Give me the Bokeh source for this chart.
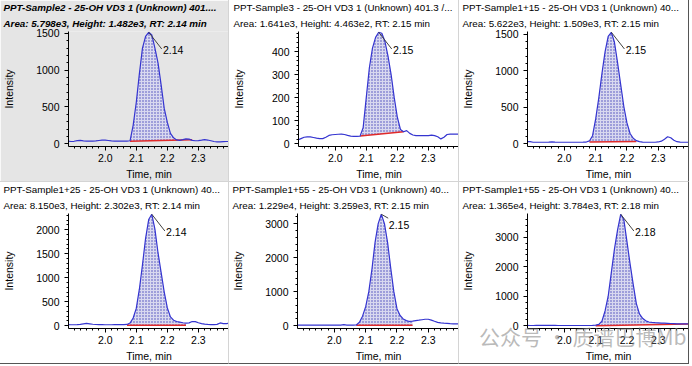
from bokeh.plotting import figure
from bokeh.layouts import column, row
from bokeh.models import Title, Range1d, FixedTicker, NumeralTickFormatter, Div
from bokeh.embed import file_html
from bokeh.resources import INLINE
from bokeh.core.properties import value

# ---------------- data ----------------
times = [1.88, 1.89, 1.90, 1.91, 1.92, 1.93, 1.94, 1.95, 1.96, 1.97,
         1.98, 1.99, 2.00, 2.01, 2.02, 2.03, 2.04, 2.05, 2.06, 2.07,
         2.08, 2.09, 2.10, 2.11, 2.12, 2.13, 2.14, 2.15, 2.16, 2.17,
         2.18, 2.19, 2.20, 2.21, 2.22, 2.23, 2.24, 2.25, 2.26, 2.27,
         2.28, 2.29, 2.30, 2.31, 2.32, 2.33, 2.34, 2.35, 2.36, 2.37,
         2.38, 2.39, 2.40]

title_line1 = [
    "PPT-Sample2 - 25-OH VD3 1 (Unknown) 401....",
    "PPT-Sample3 - 25-OH VD3 1 (Unknown) 401.3 /...",
    "PPT-Sample1+15 - 25-OH VD3 1 (Unknown) 40...",
    "PPT-Sample1+25 - 25-OH VD3 1 (Unknown) 40...",
    "PPT-Sample1+55 - 25-OH VD3 1 (Unknown) 40...",
    "PPT-Sample1+55 - 25-OH VD3 1 (Unknown) 40...",
]
title_line2 = [
    "Area: 5.798e3, Height: 1.482e3, RT: 2.14 min",
    "Area: 1.641e3, Height: 4.463e2, RT: 2.15 min",
    "Area: 5.622e3, Height: 1.509e3, RT: 2.15 min",
    "Area: 8.150e3, Height: 2.302e3, RT: 2.14 min",
    "Area: 1.229e4, Height: 3.259e3, RT: 2.15 min",
    "Area: 1.365e4, Height: 3.784e3, RT: 2.18 min",
]
rt_labels = ["2.14", "2.15", "2.15", "2.14", "2.15", "2.18"]

intensity_1 = [35, 30, 33, 42, 45, 38, 35, 34, 35, 38,
               44, 50, 50, 44, 38, 35, 35, 34, 34, 35,
               40, 250, 560, 950, 1300, 1460, 1515, 1480, 1300, 1100,
               800, 480, 290, 140, 80, 52, 46, 55, 66, 62,
               46, 40, 42, 48, 55, 50, 40, 30, 25, 25,
               28, 30, 30]
intensity_2 = [16, 22, 28, 30, 30, 27, 24, 22, 22, 28,
               36, 39, 40, 41, 42, 40, 36, 33, 32, 32,
               33, 70, 200, 330, 415, 462, 484, 480, 445, 380,
               300, 200, 115, 62, 52, 57, 45, 38, 35, 35,
               35, 35, 35, 37, 35, 30, 21, 28, 40, 42,
               42, 42, 42]
intensity_3 = [30, 28, 20, 20, 20, 20, 20, 22, 26, 22,
               20, 20, 20, 20, 20, 20, 20, 20, 21, 23,
               38, 110, 340, 630, 960, 1260, 1470, 1527, 1390, 1110,
               810, 510, 285, 140, 75, 42, 28, 22, 20, 20,
               20, 20, 24, 35, 62, 95, 82, 48, 28, 22,
               20, 20, 20]
intensity_4 = [22, 20, 20, 22, 28, 38, 48, 40, 30, 25,
               22, 22, 20, 20, 20, 22, 22, 22, 22, 26,
               55, 160, 360, 760, 1270, 1820, 2210, 2320, 2010, 1520,
               1110, 700, 370, 185, 115, 88, 76, 62, 52, 60,
               88, 85, 62, 42, 32, 26, 22, 22, 28, 58,
               42, 45, 50]
intensity_5 = [15, 15, 15, 15, 15, 15, 15, 15, 15, 15,
               15, 15, 15, 15, 20, 30, 20, 15, 15, 22,
               100, 280, 560, 1000, 1660, 2450, 3000, 3275, 3000, 2450,
               1700, 1000, 500, 300, 200, 150, 125, 135, 150, 162,
               176, 190, 190, 165, 130, 100, 82, 75, 70, 62,
               56, 55, 55]
intensity_6 = [10, 8, 8, 10, 12, 14, 15, 14, 12, 10,
               8, 8, 8, 8, 8, 8, 8, 8, 8, 8,
               8, 10, 20, 45, 150, 500, 1000, 1800, 2600, 3250,
               3780, 3600, 2850, 2100, 1400, 750, 400, 250, 170, 125,
               112, 102, 96, 90, 85, 80, 75, 70, 65, 62,
               60, 60, 60]
intensities = [intensity_1, intensity_2, intensity_3, intensity_4, intensity_5, intensity_6]

peak_start = [2.08, 2.08, 2.08, 2.07, 2.07, 2.10]
peak_end = [2.28, 2.22, 2.23, 2.26, 2.25, 2.40]
base_start = [32, 33, 22, 10, 15, 2]
base_end = [55, 52, 30, 10, 15, 55]

y_major = [
    [0, 500, 1000, 1500],
    [0, 100, 200, 300, 400],
    [0, 500, 1000, 1500],
    [0, 500, 1000, 1500, 2000],
    [0, 1000, 2000, 3000],
    [0, 1000, 2000, 3000],
]
x_major = [2.0, 2.1, 2.2, 2.3]
watermark = "公众号 · 质谱巴博Mb"

FONT = "Liberation Sans"
LINE_BLUE = "#3535d0"
FILL = "#d9d9ef"
DOTS = "#4444bb"
RED = "#e02a2a"
SEP = "#d4d4d4"
EDGE = "#555555"


def make_panel(i):
    ys = intensities[i]
    ymax = max(ys)
    col, rw = i % 3, i // 3
    selected = (i == 0)
    bg = "#e5e5e5" if selected else "#ffffff"
    w = 229 if col == 0 else 230
    p = figure(width=w, height=182, output_backend="svg", toolbar_location=None,
               x_range=Range1d(1.882, 2.40),
               y_range=Range1d(-0.025 * ymax, ymax * 1.007),
               min_border_left=68, min_border_right=0, min_border_top=31,
               min_border_bottom=29, title=None,
               background_fill_color=bg, border_fill_color=bg,
               outline_line_color=None)
    p.styles = {"border-right": "1px solid " + (EDGE if col == 2 else SEP),
                "border-bottom": "1px solid " + (EDGE if rw == 1 else SEP)}
    style = "bold italic" if selected else "normal"
    t2 = Title(text=title_line2[i], align="left", text_font=FONT, text_font_size="9.8px",
               text_font_style=style, text_color="#000000", standoff=6, offset=-65)
    t1 = Title(text=title_line1[i], align="left", text_font=FONT, text_font_size="9.8px",
               text_font_style=style, text_color="#000000", standoff=-1, offset=-65)
    p.add_layout(t2, "above")
    p.add_layout(t1, "above")

    p.grid.visible = False

    # integrated area
    seg_t = [t for t in times if peak_start[i] - 1e-9 <= t <= peak_end[i] + 1e-9]
    seg_y = [ys[times.index(t)] for t in seg_t]
    span = peak_end[i] - peak_start[i]
    seg_b = [base_start[i] + (base_end[i] - base_start[i]) * (t - peak_start[i]) / span for t in seg_t]
    p.varea(x=seg_t, y1=seg_b, y2=seg_y, fill_color=FILL, hatch_pattern=".",
            hatch_color=DOTS, hatch_scale=3, hatch_weight=1)
    p.line([peak_start[i], peak_end[i]], [base_start[i], base_end[i]], color=RED, line_width=1.5)

    p.line(times, ys, color=LINE_BLUE, line_width=1.2)

    # apex annotation
    k = ys.index(ymax)
    ax, ay = times[k], ymax
    if i == 4:
        lx, ly = ax + 0.022, ay - 0.035 * ymax
        tx, ty = lx + 0.002, ly - 0.06 * ymax
    else:
        lx, ly = ax + 0.042, ay - 0.15 * ymax
        tx, ty = lx + 0.004, ly - 0.01 * ymax
    p.segment(x0=[ax], y0=[ay], x1=[lx], y1=[ly], line_color="#404040", line_width=1)
    p.text(x=[tx], y=[ty], text=[rt_labels[i]], text_font=value(FONT), text_font_size="10.5px",
           text_baseline="middle", text_align="left", text_color="#000000")

    # axes
    p.xaxis.ticker = FixedTicker(ticks=x_major,
                                 minor_ticks=[1.90 + 0.02 * j for j in range(26)])
    p.xaxis.formatter = NumeralTickFormatter(format="0.0")
    step = y_major[i][1] - y_major[i][0]
    p.yaxis.ticker = FixedTicker(ticks=y_major[i],
                                 minor_ticks=[step / 5 * j for j in range(int(ymax / (step / 5)) + 1)])
    p.xaxis.axis_label = "Time, min"
    p.yaxis.axis_label = "Intensity"
    for ax_ in (p.xaxis, p.yaxis):
        ax_.axis_line_color = "#000000"
        ax_.major_tick_line_color = "#000000"
        ax_.minor_tick_line_color = "#000000"
        ax_.major_tick_in = 0
        ax_.major_tick_out = 4
        ax_.minor_tick_in = 0
        ax_.minor_tick_out = 2
        ax_.major_label_text_font = FONT
        ax_.major_label_text_font_size = "10.5px"
        ax_.major_label_text_color = "#000000"
        ax_.axis_label_text_font = FONT
        ax_.axis_label_text_font_size = "10.5px"
        ax_.axis_label_text_font_style = "normal"
        ax_.axis_label_text_color = "#000000"
    p.xaxis.major_label_standoff = 3
    p.xaxis.axis_label_standoff = 3
    p.yaxis.major_label_standoff = 5
    p.yaxis.axis_label_standoff = 24 if i == 1 else 18
    return p


panels = [make_panel(i) for i in range(6)]
mark = Div(text=watermark, width=215, height=30,
           styles={"position": "absolute", "left": "474px", "top": "316px",
                   "color": "rgba(140,140,140,0.6)", "font-size": "21px",
                   "font-family": "Noto Sans CJK SC", "white-space": "nowrap",
                   "z-index": "10", "pointer-events": "none"})
layout = column(row(panels[0], panels[1], panels[2]), row(panels[3], panels[4], panels[5]), mark)

open("out.html", "w").write(file_html(layout, INLINE))
